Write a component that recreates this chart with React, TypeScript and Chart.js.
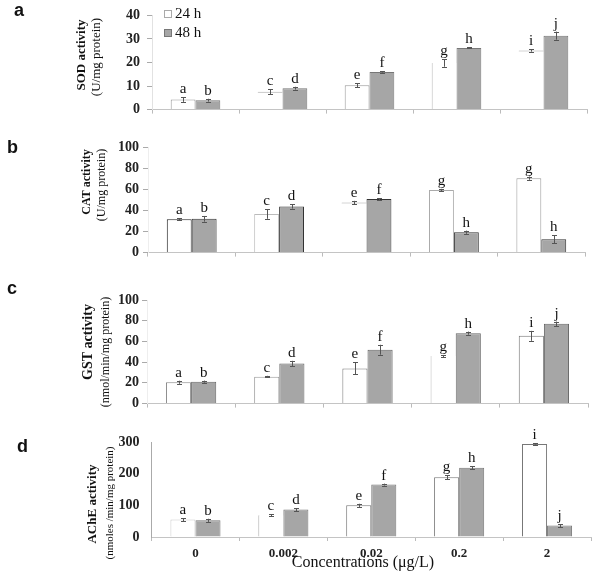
import React, { useEffect, useRef } from 'react';
import { Chart, registerables } from 'chart.js';

Chart.register(...registerables);

const SERIF = '"Liberation Serif", "Times New Roman", serif';
const SANS = '"Liberation Sans", Arial, sans-serif';

// Exposure concentrations (µg/L) and exposure times
const concentrations = ['0', '0.002', '0.02', '0.2', '2'];
const seriesNames = ['24 h', '48 h'];

// SOD activity (U/mg protein)
const sod24h = [4.3, 7.6, 10.3, 19.8, 25.1];
const sod48h = [4.0, 9.1, 16.0, 26.2, 31.4];
const sodSd24h = [1.0, 1.0, 0.9, 1.6, 0.5];
const sodSd48h = [0.6, 0.6, 0.3, 0.2, 1.7];
const sodGroups24h = ['a', 'c', 'e', 'g', 'i'];
const sodGroups48h = ['b', 'd', 'f', 'h', 'j'];

// CAT activity (U/mg protein)
const cat24h = [31.5, 36.5, 47.5, 59.2, 70.5];
const cat48h = [32.0, 43.7, 50.7, 19.3, 12.6];
const catSd24h = [1.0, 4.5, 1.5, 1.2, 1.5];
const catSd48h = [2.7, 2.0, 1.0, 1.5, 3.7];
const catGroups24h = ['a', 'c', 'e', 'g', 'g'];
const catGroups48h = ['b', 'd', 'f', 'h', 'h'];

// GST activity (nmol/min/mg protein)
const gst24h = [20.6, 26.0, 34.0, 46.0, 65.4];
const gst48h = [21.2, 38.8, 52.0, 68.0, 77.0];
const gstSd24h = [1.5, 0.8, 5.7, 1.0, 4.8];
const gstSd48h = [1.0, 2.5, 4.8, 1.5, 2.2];
const gstGroups24h = ['a', 'c', 'e', 'g', 'i'];
const gstGroups48h = ['b', 'd', 'f', 'h', 'j'];

// AChE activity (nmoles/min/mg protein)
const ache24h = [55, 68.5, 100, 188.5, 293.7];
const ache48h = [52.6, 86.5, 165.5, 219, 36];
const acheSd24h = [5, 3, 5, 6, 2];
const acheSd48h = [5, 5, 3, 5, 5];
const acheGroups24h = ['a', 'c', 'e', 'g', 'i'];
const acheGroups48h = ['b', 'd', 'f', 'h', 'j'];

const FILL_48 = '#a6a6a6';

type Panel = {
  tag: string;
  tagX: number;
  tagY: number;
  top: number;
  height: number;
  areaTop: number;
  areaBottom: number;
  areaLeft: number;
  areaRight: number;
  max: number;
  step: number;
  v24: number[];
  v48: number[];
  sd24: number[];
  sd48: number[];
  g24: string[];
  g48: string[];
  titles: [string, string];
  titleSizes: [number, number];
  titleX: [number, number];
  titleY: [number, number];
  edges24: string[];
  border24: string[];
  border48: string;
  tickLen: number;
  tickPad: number;
  yBorder: string;
  legend?: boolean;
  xLabels?: boolean;
};

const panels: Panel[] = [
  {
    tag: 'a', tagX: 14, tagY: 16,
    top: 0, height: 125, areaTop: 10, areaBottom: 115, areaLeft: 152, areaRight: 587,
    max: 40, step: 10,
    v24: sod24h, v48: sod48h, sd24: sodSd24h, sd48: sodSd48h, g24: sodGroups24h, g48: sodGroups48h,
    titles: ['SOD activity', '(U/mg protein)'], titleSizes: [13, 13], titleX: [82, 97], titleY: [55, 57],
    edges24: ['full', 'top', 'full', 'left', 'top'],
    border24: ['#999', '#aaa', '#999', '#bbb', '#aaa'], border48: '#777',
    tickLen: 5, tickPad: 7, yBorder: '#e2e2e2', legend: true,
  },
  {
    tag: 'b', tagX: 7, tagY: 153,
    top: 125, height: 140, areaTop: 147, areaBottom: 256, areaLeft: 148, areaRight: 585,
    max: 100, step: 20,
    v24: cat24h, v48: cat48h, sd24: catSd24h, sd48: catSd48h, g24: catGroups24h, g48: catGroups48h,
    titles: ['CAT activity', '(U/mg protein)'], titleSizes: [12, 12], titleX: [87, 102], titleY: [182, 185],
    edges24: ['full', 'full', 'top', 'full', 'full'],
    border24: ['#222', '#bbb', '#aaa', '#aaa', '#999'], border48: '#333',
    tickLen: 5, tickPad: 4, yBorder: '#eeeeee',
  },
  {
    tag: 'c', tagX: 7, tagY: 294,
    top: 265, height: 150, areaTop: 300, areaBottom: 405, areaLeft: 147, areaRight: 588,
    max: 100, step: 20,
    v24: gst24h, v48: gst48h, sd24: gstSd24h, sd48: gstSd48h, g24: gstGroups24h, g48: gstGroups48h,
    titles: ['GST activity', '(nmol/min/mg protein)'], titleSizes: [14, 12], titleX: [88, 106], titleY: [342, 352],
    edges24: ['full', 'full', 'full', 'left', 'full'],
    border24: ['#888', '#999', '#777', '#bbb', '#777'], border48: '#666',
    tickLen: 5, tickPad: 3, yBorder: '#eeeeee',
  },
  {
    tag: 'd', tagX: 17, tagY: 452,
    top: 415, height: 165, areaTop: 442, areaBottom: 537, areaLeft: 151.5, areaRight: 591,
    max: 300, step: 100,
    v24: ache24h, v48: ache48h, sd24: acheSd24h, sd48: acheSd48h, g24: acheGroups24h, g48: acheGroups48h,
    titles: ['AChE activity', '(nmoles /min/mg protein)'], titleSizes: [13, 11], titleX: [93, 110], titleY: [504, 503],
    edges24: ['full', 'left', 'full', 'full', 'full'],
    border24: ['#ccc', '#aaa', '#777', '#777', '#777'], border48: '#777',
    tickLen: 0, tickPad: 12, yBorder: '#aaa', xLabels: true,
  },
];

function edgeWidth(kind: string) {
  if (kind === 'left') return { top: 0, left: 1, right: 0, bottom: 0 };
  if (kind === 'top') return { top: 1, left: 0, right: 0, bottom: 0 };
  return { top: 1, left: 1, right: 1, bottom: 0 };
}

function drawRotated(ctx: CanvasRenderingContext2D, text: string, x: number, y: number, font: string) {
  ctx.save();
  ctx.translate(x, y);
  ctx.rotate(-Math.PI / 2);
  ctx.font = font;
  ctx.fillStyle = '#111';
  ctx.textAlign = 'center';
  ctx.textBaseline = 'middle';
  ctx.fillText(text, 0, 0);
  ctx.restore();
}

function PanelChart({ p }: { p: Panel }) {
  const ref = useRef<HTMLCanvasElement | null>(null);

  useEffect(() => {
    if (!ref.current) return;

    const overlay = {
      id: 'panelOverlay',
      afterDatasetsDraw(chart: any) {
        const ctx: CanvasRenderingContext2D = chart.ctx;
        const y = chart.scales.y;
        const sets: [number[], number[], string[]][] = [
          [p.v24, p.sd24, p.g24],
          [p.v48, p.sd48, p.g48],
        ];
        sets.forEach(([vals, sds, groups], di) => {
          const meta = chart.getDatasetMeta(di);
          meta.data.forEach((bar: any, i: number) => {
            const x = bar.x;
            const hi = y.getPixelForValue(vals[i] + sds[i]);
            const lo = y.getPixelForValue(vals[i] - sds[i]);
            ctx.save();
            ctx.strokeStyle = '#555';
            ctx.lineWidth = 1;
            ctx.beginPath();
            ctx.moveTo(Math.round(x) + 0.5, lo);
            ctx.lineTo(Math.round(x) + 0.5, hi);
            ctx.moveTo(Math.round(x) - 2, Math.round(hi) + 0.5);
            ctx.lineTo(Math.round(x) + 3, Math.round(hi) + 0.5);
            ctx.moveTo(Math.round(x) - 2, Math.round(lo) + 0.5);
            ctx.lineTo(Math.round(x) + 3, Math.round(lo) + 0.5);
            ctx.stroke();
            ctx.font = `15px ${SERIF}`;
            ctx.fillStyle = '#111';
            ctx.textAlign = 'center';
            ctx.textBaseline = 'alphabetic';
            ctx.fillText(groups[i], x, hi - 4);
            ctx.restore();
          });
        });
      },
      afterDraw(chart: any) {
        const ctx: CanvasRenderingContext2D = chart.ctx;
        const off = p.top;
        // axis title, two lines
        drawRotated(ctx, p.titles[0], p.titleX[0], p.titleY[0] - off, `bold ${p.titleSizes[0]}px ${SERIF}`);
        drawRotated(ctx, p.titles[1], p.titleX[1], p.titleY[1] - off, `${p.titleSizes[1]}px ${SERIF}`);
        // panel tag
        ctx.save();
        ctx.font = `bold 18px ${SANS}`;
        ctx.fillStyle = '#111';
        ctx.textAlign = 'left';
        ctx.textBaseline = 'alphabetic';
        ctx.fillText(p.tag, p.tagX, p.tagY - off);
        ctx.restore();

        if (p.legend) {
          ctx.save();
          ctx.lineWidth = 1;
          ctx.fillStyle = '#fff';
          ctx.strokeStyle = '#aaa';
          ctx.fillRect(164.5, 10.5, 7, 7);
          ctx.strokeRect(164.5, 10.5, 7, 7);
          ctx.fillStyle = FILL_48;
          ctx.strokeStyle = '#777';
          ctx.fillRect(164.5, 29.5, 7, 7);
          ctx.strokeRect(164.5, 29.5, 7, 7);
          ctx.font = `15px ${SERIF}`;
          ctx.fillStyle = '#111';
          ctx.textAlign = 'left';
          ctx.textBaseline = 'middle';
          ctx.fillText(seriesNames[0], 175, 14);
          ctx.fillText(seriesNames[1], 175, 33);
          ctx.restore();
        }

        if (p.xLabels) {
          ctx.save();
          ctx.font = `16px ${SERIF}`;
          ctx.fillStyle = '#111';
          ctx.textAlign = 'center';
          ctx.textBaseline = 'middle';
          ctx.fillText('Concentrations (\u03bcg/L)', 363, 563 - off);
          ctx.restore();
        }
      },
    };

    const chart = new Chart(ref.current, {
      type: 'bar',
      data: {
        labels: concentrations,
        datasets: [
          {
            label: seriesNames[0],
            data: p.v24,
            backgroundColor: '#ffffff',
            borderColor: (c: any) => p.border24[c.dataIndex],
            borderWidth: (c: any) => edgeWidth(p.edges24[c.dataIndex]),
            borderSkipped: 'start',
            categoryPercentage: 0.57,
            barPercentage: 1,
          },
          {
            label: seriesNames[1],
            data: p.v48,
            backgroundColor: FILL_48,
            borderColor: p.border48,
            borderWidth: { top: 1, left: 1, right: 1, bottom: 0 },
            borderSkipped: 'start',
            categoryPercentage: 0.57,
            barPercentage: 1,
          },
        ],
      } as any,
      options: {
        animation: false,
        responsive: false,
        events: [],
        layout: {
          padding: { top: p.areaTop - p.top, left: 0, right: 596 - p.areaRight, bottom: 0 },
        },
        plugins: {
          legend: { display: false },
          tooltip: { enabled: false },
        },
        scales: {
          x: {
            grid: {
              display: true,
              offset: true,
              drawOnChartArea: false,
              drawTicks: true,
              tickLength: 4,
              color: '#bbb',
            },
            border: { display: true, color: '#c4c4c4' },
            ticks: {
              display: !!p.xLabels,
              color: '#222',
              padding: 5,
              font: { family: SERIF, size: 13, weight: 'bold' },
            },
            afterFit: (s: any) => {
              s.height = p.top + p.height - p.areaBottom;
            },
          },
          y: {
            min: 0,
            max: p.max,
            ticks: {
              stepSize: p.step,
              color: '#222',
              padding: p.tickPad,
              font: { family: SERIF, size: 14, weight: 'bold' },
            },
            grid: {
              display: true,
              drawOnChartArea: false,
              drawTicks: p.tickLen > 0,
              tickLength: p.tickLen,
              color: '#aaa',
            },
            border: { display: true, color: p.yBorder },
            afterFit: (s: any) => {
              s.width = p.areaLeft;
            },
          },
        },
      } as any,
      plugins: [overlay],
    });

    return () => chart.destroy();
  }, [p]);

  return (
    <canvas
      ref={ref}
      width={596}
      height={p.height}
      style={{ position: 'absolute', left: 0, top: p.top, width: 596, height: p.height }}
    />
  );
}

export default function App() {
  return (
    <div style={{ position: 'absolute', left: 0, top: 0, width: 596, height: 580, background: '#fff' }}>
      {panels.map((p) => (
        <PanelChart key={p.tag} p={p} />
      ))}
    </div>
  );
}
